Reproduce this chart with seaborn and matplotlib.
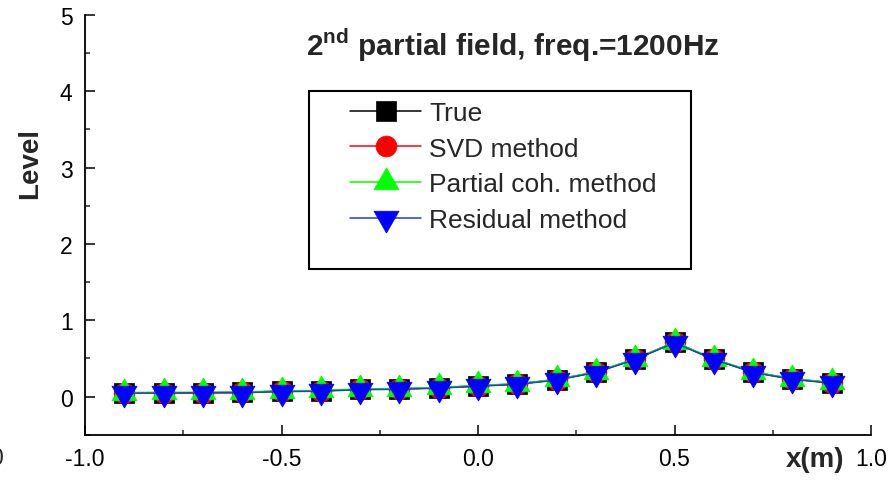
import numpy as np
import pandas as pd
import matplotlib
matplotlib.use("Agg")
import matplotlib.pyplot as plt
from matplotlib.patches import Rectangle
import seaborn as sns

# ---- data ----
x_pos = [-0.9, -0.8, -0.7, -0.6, -0.5, -0.4, -0.3, -0.2, -0.1, 0.0,
         0.1, 0.2, 0.3, 0.4, 0.5, 0.6, 0.7, 0.8, 0.9]
true_vals = [0.05, 0.05, 0.05, 0.055, 0.07, 0.075, 0.095, 0.10, 0.115, 0.14,
             0.165, 0.22, 0.32, 0.49, 0.71, 0.49, 0.32, 0.23, 0.18]
svd_vals = [0.05, 0.05, 0.05, 0.055, 0.07, 0.075, 0.095, 0.10, 0.115, 0.14,
            0.165, 0.22, 0.32, 0.49, 0.71, 0.49, 0.32, 0.23, 0.18]
pcoh_vals = [0.05, 0.055, 0.055, 0.06, 0.075, 0.08, 0.10, 0.105, 0.12, 0.145,
             0.17, 0.225, 0.325, 0.495, 0.715, 0.495, 0.325, 0.235, 0.185]
resid_vals = [0.045, 0.045, 0.05, 0.05, 0.065, 0.07, 0.09, 0.095, 0.11, 0.135,
              0.16, 0.215, 0.315, 0.485, 0.705, 0.485, 0.315, 0.225, 0.175]
series_names = ["True", "SVD method", "Partial coh. method", "Residual method"]
x_ticks = [-1.0, -0.5, 0.0, 0.5, 1.0]
x_ticklabels = ["-1.0", "-0.5", "0.0", "0.5", "1.0"]
y_ticks = [0, 1, 2, 3, 4, 5]
y_ticklabels = ["0", "1", "2", "3", "4", "5"]
title_text = r"2$^{\mathbf{nd}}$ partial field, freq.=1200Hz"

sns.set_style("ticks")
plt.rcParams['font.family'] = ['Liberation Sans', 'DejaVu Sans']
plt.rcParams['mathtext.fontset'] = 'custom'
plt.rcParams['mathtext.bf'] = 'Liberation Sans:bold'
plt.rcParams['mathtext.rm'] = 'Liberation Sans'

fig = plt.figure(figsize=(8.93, 4.85), dpi=100)
W, H = 893, 485
ax = fig.add_axes([85 / W, 1 - 435.7 / H, (871 - 85) / W, (435.7 - 16) / H])

# centroid-centred triangles (like the original software)
tri_up = [(0, 1), (-0.86, -0.5), (0.86, -0.5), (0, 1)]
tri_down = [(0, -1), (-0.86, 0.5), (0.86, 0.5), (0, -1)]

styles = [
    dict(color="black", marker="s", ms=14.5, lc="black"),
    dict(color="red", marker="o", ms=15, lc="red"),
    dict(color="#00ff00", marker=tri_up, ms=21, lc="#00ff00"),
    dict(color="blue", marker=tri_down, ms=21, lc="#1f3fd0"),
]
all_vals = [true_vals, svd_vals, pcoh_vals, resid_vals]
for name, vals, st in zip(series_names, all_vals, styles):
    df = pd.DataFrame({"x": x_pos, "y": vals})
    sns.lineplot(data=df, x="x", y="y", ax=ax, color=st["lc"],
                 marker=st["marker"], markersize=st["ms"],
                 markerfacecolor=st["color"],
                 markeredgecolor=st["color"], markeredgewidth=0.5,
                 linewidth=1.1, label=name, legend=False)

ax.set_xlim(-1.0, 1.0)
ax.set_ylim(-0.5, 5.0)
ax.set_xticks(x_ticks)
ax.set_xticklabels(x_ticklabels)
ax.set_yticks(y_ticks)
ax.set_yticklabels(y_ticklabels)
ax.set_xticks(np.arange(-1.0, 1.01, 0.25), minor=True)
ax.set_yticks(np.arange(-0.5, 5.01, 0.5), minor=True)
ax.tick_params(which="major", direction="in", length=7.5, width=1.1,
               labelsize=16.5, pad=9, colors="black")
ax.tick_params(which="minor", direction="in", length=3.8, width=1.1)
for s in ["top", "right"]:
    ax.spines[s].set_visible(False)
for s in ["left", "bottom"]:
    ax.spines[s].set_linewidth(1.3)
    ax.spines[s].set_color("black")

ax.set_xlabel("x(m)", fontsize=20, fontweight="bold")
ax.xaxis.set_label_coords((815 - 85) / (871 - 85), -0.058)
ax.xaxis.label.set_va("center")
ax.set_ylabel("Level", fontsize=20, fontweight="bold")
ax.yaxis.set_label_coords((43 - 85) / (871 - 85), (435.7 - 164) / (435.7 - 16))

fig.text(513 / W, 1 - 56 / H, title_text, fontsize=21.5, fontweight="bold",
         ha="center", va="baseline")

# stray cropped label at left edge
fig.text(3 / W, 1 - 459 / H, "0", fontsize=16.5, ha="right", va="center")

# legend
handles, labels = ax.get_legend_handles_labels()
leg = fig.legend(handles, labels, loc="upper left",
                 bbox_to_anchor=(350 / W, 1 - 102 / H),
                 frameon=False, fontsize=19, handlelength=2.7,
                 handletextpad=0.3, labelspacing=0.44, borderpad=0,
                 borderaxespad=0, markerscale=1.0)
fig.patches.append(Rectangle((309 / W, 1 - 270 / H), (691 - 309) / W,
                             (270 - 92) / H, transform=fig.transFigure,
                             fill=False, edgecolor="black", linewidth=1.5))

fig.savefig("out.png", dpi=100)
